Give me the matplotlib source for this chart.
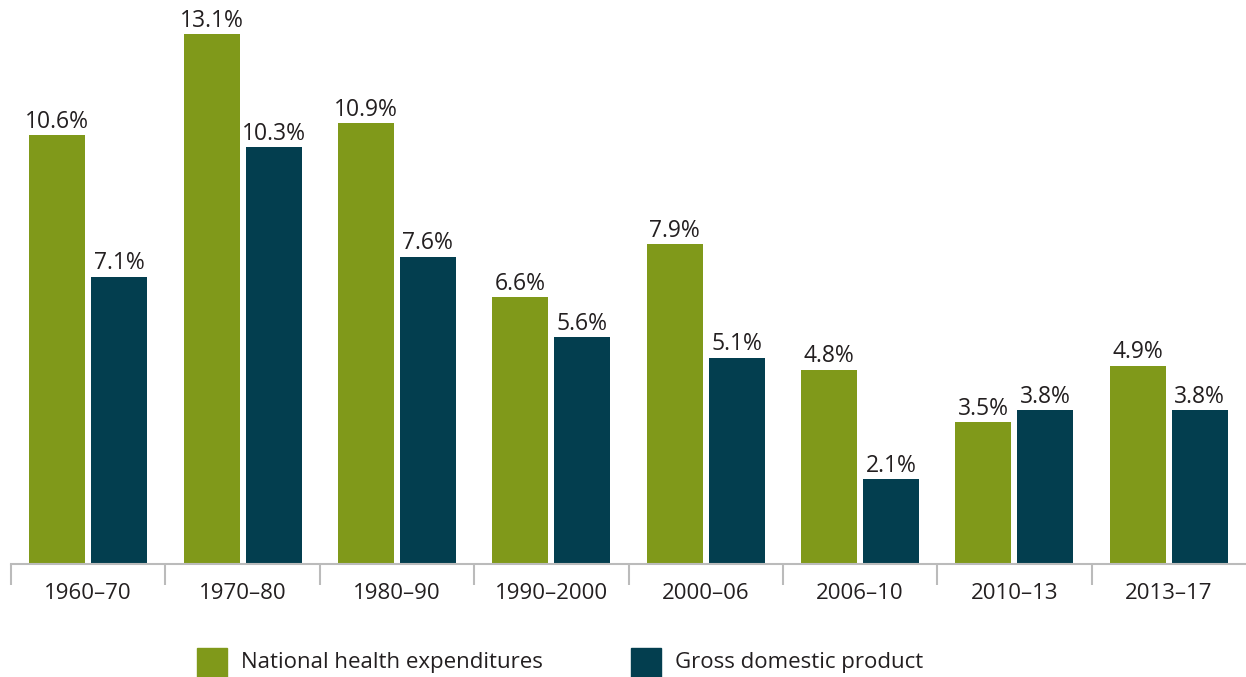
import numpy as np
import matplotlib.pyplot as plt
from matplotlib.patches import Rectangle

plt.rcParams['font.family'] = ['Open Sans', 'DejaVu Sans']

# datos
periodos = ["1960–70", "1970–80", "1980–90", "1990–2000", "2000–06", "2006–10", "2010–13", "2013–17"]
gasto_salud = [10.6, 13.1, 10.9, 6.6, 7.9, 4.8, 3.5, 4.9]
pib = [7.1, 10.3, 7.6, 5.6, 5.1, 2.1, 3.8, 3.8]
series = ["National health expenditures", "Gross domestic product"]

verde = "#80991A"
azul = "#033E4F"
texto = "#231F20"

W, H = 1246, 677
fig = plt.figure(figsize=(W / 100, H / 100), dpi=100)
ax = fig.add_axes([11 / W, (H - 564) / H, (W - 11) / W, 564 / H])

x = np.arange(len(periodos)) + 0.5
ancho = 56 / 154.4
sep = 3 / 154.4

b1 = ax.bar(x - ancho / 2 - sep, gasto_salud, ancho, color=verde)
b2 = ax.bar(x + ancho / 2 + sep, pib, ancho, color=azul)

for barras, vals in [(b1, gasto_salud), (b2, pib)]:
    for b, v in zip(barras, vals):
        ax.annotate(f"{v}%", (b.get_x() + b.get_width() / 2, v), xytext=(0, 1),
                    textcoords="offset points", ha="center", va="bottom",
                    fontsize=16.5, color=texto)

ax.set_xlim(0, len(periodos))
ax.set_ylim(0, 564 / 40.46)

for s in ["top", "right", "left"]:
    ax.spines[s].set_visible(False)
ax.spines["bottom"].set_color("#BBBBBB")
ax.spines["bottom"].set_linewidth(1.5)
ax.set_yticks([])

# ticks en los limites de grupo, etiquetas centradas
ax.set_xticks(np.arange(len(periodos)))
ax.tick_params(axis="x", which="major", length=15, width=1.5, color="#BBBBBB", labelbottom=False)
ax.set_xticks(x, minor=True)
ax.set_xticklabels(periodos, minor=True)
ax.tick_params(axis="x", which="minor", length=0, pad=14, labelsize=16, labelcolor=texto)

# leyenda manual
for i, (nombre, col) in enumerate(zip(series, [verde, azul])):
    x0 = [197, 631][i]
    fig.patches.append(Rectangle((x0 / W, 0), 30 / W, 29 / H, color=col,
                                 transform=fig.transFigure, figure=fig))
    fig.text((x0 + 44) / W, 14.5 / H, nombre, va="center", ha="left",
             fontsize=16, color=texto)

fig.savefig("out.png", dpi=100)
